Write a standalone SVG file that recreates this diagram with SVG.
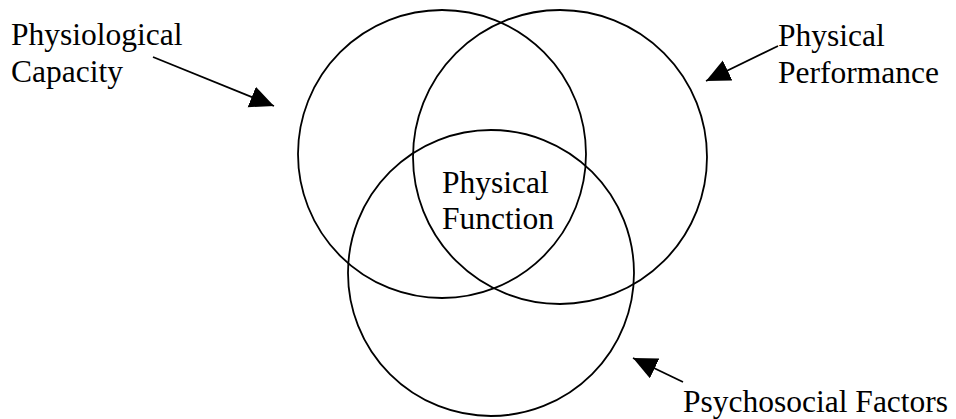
<svg xmlns="http://www.w3.org/2000/svg" width="956" height="419" viewBox="0 0 956 419">
<style>
.c{fill:none;stroke:#000;stroke-width:1.8}
.t{font-family:"Liberation Serif","Times New Roman",serif;font-size:31.5px;fill:#000}
.a{stroke:#000;stroke-width:1.8;fill:none}
</style>
<defs>
<marker id="ah" markerUnits="userSpaceOnUse" markerWidth="26" markerHeight="24" refX="24" refY="11" orient="auto" viewBox="0 0 26 24">
<path d="M0,0 L24,11 L0,22 z" fill="#000"/>
</marker>
</defs>
<rect width="956" height="419" fill="#fff"/>
<g id="capacity"><circle class="c" cx="442" cy="154" r="144"/></g>
<g id="performance"><circle class="c" cx="560" cy="157" r="147"/></g>
<g id="psychosocial"><circle class="c" cx="491" cy="273" r="143"/></g>
<g id="function"><text class="t" x="442" y="193">Physical</text><text class="t" x="442" y="229">Function</text></g>
<g id="label-capacity"><text class="t" x="11" y="45">Physiological</text><text class="t" x="11" y="82">Capacity</text></g>
<g id="label-performance"><text class="t" x="778" y="46">Physical</text><text class="t" x="778" y="83">Performance</text></g>
<g id="label-psychosocial"><text class="t" x="683" y="412">Psychosocial Factors</text></g>
<g id="connectors">
<line class="a" x1="153" y1="57" x2="274" y2="106" marker-end="url(#ah)"/>
<line class="a" x1="778" y1="46" x2="706" y2="81" marker-end="url(#ah)"/>
<line class="a" x1="683" y1="382" x2="633" y2="358" marker-end="url(#ah)"/>
</g>
</svg>
